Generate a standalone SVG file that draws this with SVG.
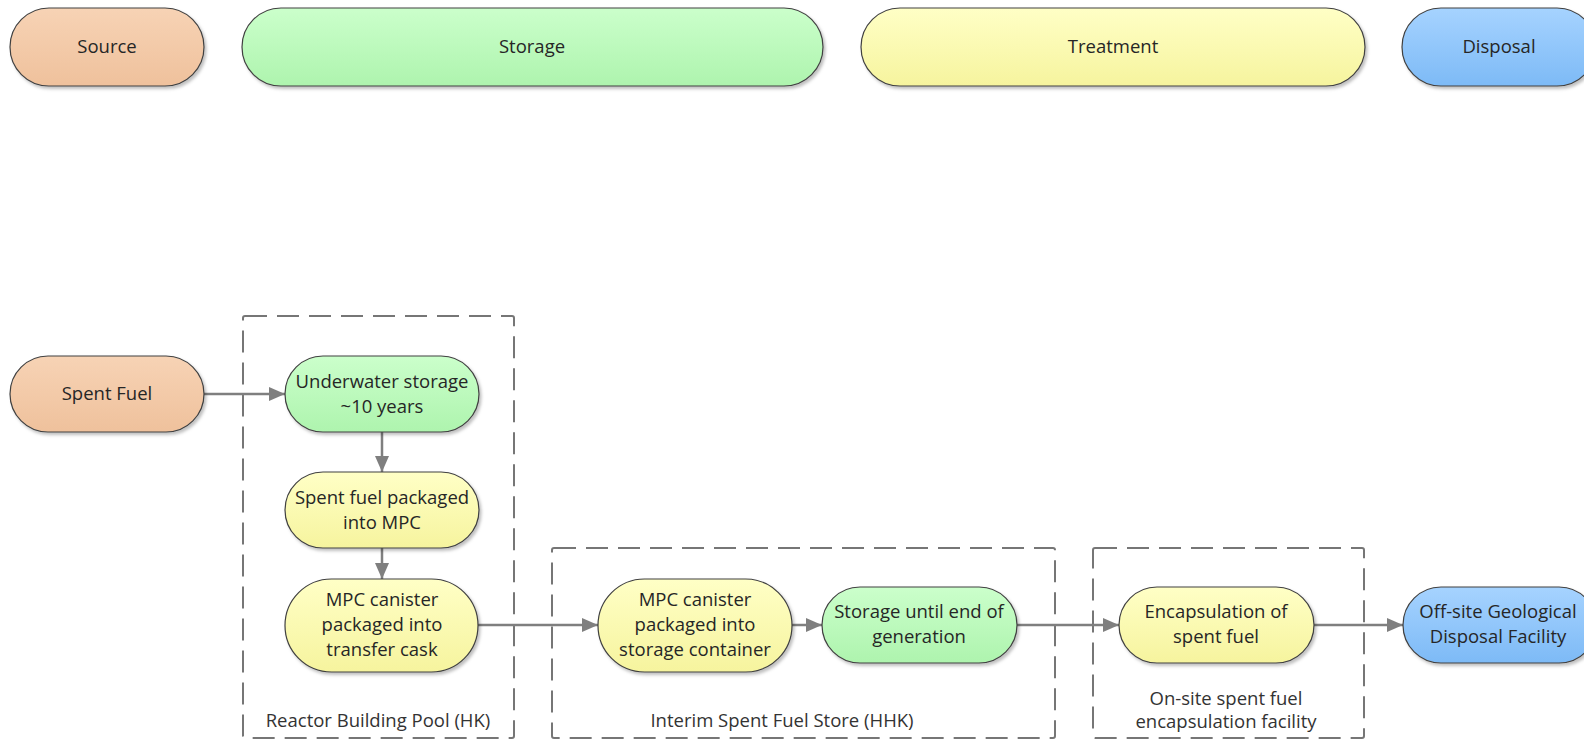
<svg xmlns="http://www.w3.org/2000/svg" width="1584" height="743" viewBox="0 0 1584 743">
<defs>
<linearGradient id="gOrange" x1="0" y1="0" x2="0" y2="1"><stop offset="0" stop-color="#F7D3B5"/><stop offset="1" stop-color="#EFC19C"/></linearGradient>
<linearGradient id="gGreen" x1="0" y1="0" x2="0" y2="1"><stop offset="0" stop-color="#CBFFCB"/><stop offset="1" stop-color="#AEF4AE"/></linearGradient>
<linearGradient id="gYellow" x1="0" y1="0" x2="0" y2="1"><stop offset="0" stop-color="#FFFFC6"/><stop offset="1" stop-color="#F6F49E"/></linearGradient>
<linearGradient id="gBlue" x1="0" y1="0" x2="0" y2="1"><stop offset="0" stop-color="#A6D3FF"/><stop offset="1" stop-color="#7DBAF6"/></linearGradient>
<filter id="sh" x="-10%" y="-10%" width="130%" height="140%"><feDropShadow dx="2" dy="2.5" stdDeviation="1.5" flood-color="#000" flood-opacity="0.25"/></filter>
<marker id="arr" viewBox="0 0 16 14" refX="16" refY="7" markerWidth="16" markerHeight="14" markerUnits="userSpaceOnUse" orient="auto"><path d="M0,0 L16,7 L0,14 Z" fill="#7F7F7F"/></marker>
</defs>
<style>
.n{stroke:#404040;stroke-width:1.2;filter:url(#sh)}
.o{fill:url(#gOrange)}.g{fill:url(#gGreen)}.y{fill:url(#gYellow)}.b{fill:url(#gBlue)}
text{font-family:"Open Sans","Liberation Sans",sans-serif;font-size:18.5px;fill:#262626;text-anchor:middle}
.lbl{fill:#333}
.box{fill:none;stroke:#767676;stroke-width:2;stroke-dasharray:22 10}
.c{fill:none;stroke:#7F7F7F;stroke-width:2.5;marker-end:url(#arr)}
</style>
<rect width="1584" height="743" fill="#FFFFFF"/>

<g id="containers">
<g id="box-reactor"><rect class="box" x="243" y="316" width="271" height="422" rx="2"/><text class="lbl" x="378" y="727">Reactor Building Pool (HK)</text></g>
<g id="box-interim"><rect class="box" x="552" y="548" width="503" height="190" rx="2"/><text class="lbl" x="782" y="727">Interim Spent Fuel Store (HHK)</text></g>
<g id="box-encap"><rect class="box" x="1093" y="548" width="271" height="190" rx="2"/><text class="lbl" x="1226" y="705">On-site spent fuel</text><text class="lbl" x="1226" y="728">encapsulation facility</text></g>
</g>

<g id="hdr-source"><rect class="n o" x="10" y="8" width="194" height="78" rx="39"/><text x="107" y="53">Source</text></g>
<g id="hdr-storage"><rect class="n g" x="242" y="8" width="581" height="78" rx="39"/><text x="532" y="53">Storage</text></g>
<g id="hdr-treatment"><rect class="n y" x="861" y="8" width="504" height="78" rx="39"/><text x="1113" y="53">Treatment</text></g>
<g id="hdr-disposal"><rect class="n b" x="1402" y="8" width="194" height="78" rx="39"/><text x="1499" y="53">Disposal</text></g>

<g id="connectors">
<path class="c" d="M204,394 L285,394"/>
<path class="c" d="M382,432 L382,472"/>
<path class="c" d="M382,548 L382,579"/>
<path class="c" d="M478,625 L598,625"/>
<path class="c" d="M792,625 L822,625"/>
<path class="c" d="M1017,625 L1119,625"/>
<path class="c" d="M1314,625 L1403,625"/>
</g>

<g id="spent-fuel"><rect class="n o" x="10" y="356" width="194" height="76" rx="38"/><text x="107" y="400">Spent Fuel</text></g>
<g id="underwater"><rect class="n g" x="285" y="356" width="194" height="76" rx="38"/><text x="382" y="388">Underwater storage</text><text x="382" y="413">~10 years</text></g>
<g id="packaged-mpc"><rect class="n y" x="285" y="472" width="194" height="76" rx="38"/><text x="382" y="504">Spent fuel packaged</text><text x="382" y="529">into MPC</text></g>
<g id="transfer-cask"><rect class="n y" x="285" y="579" width="193" height="93" rx="46.5"/><text x="382" y="606">MPC canister</text><text x="382" y="631">packaged into</text><text x="382" y="656">transfer cask</text></g>
<g id="storage-container"><rect class="n y" x="598" y="579" width="194" height="93" rx="46.5"/><text x="695" y="606">MPC canister</text><text x="695" y="631">packaged into</text><text x="695" y="656">storage container</text></g>
<g id="storage-until"><rect class="n g" x="822" y="587" width="195" height="76" rx="38"/><text x="919" y="618">Storage until end of</text><text x="919" y="643">generation</text></g>
<g id="encapsulation"><rect class="n y" x="1119" y="587" width="195" height="76" rx="38"/><text x="1216" y="618">Encapsulation of</text><text x="1216" y="643">spent fuel</text></g>
<g id="geological"><rect class="n b" x="1403" y="587" width="194" height="76" rx="38"/><text x="1498" y="618">Off-site Geological</text><text x="1498" y="643">Disposal Facility</text></g>
</svg>
